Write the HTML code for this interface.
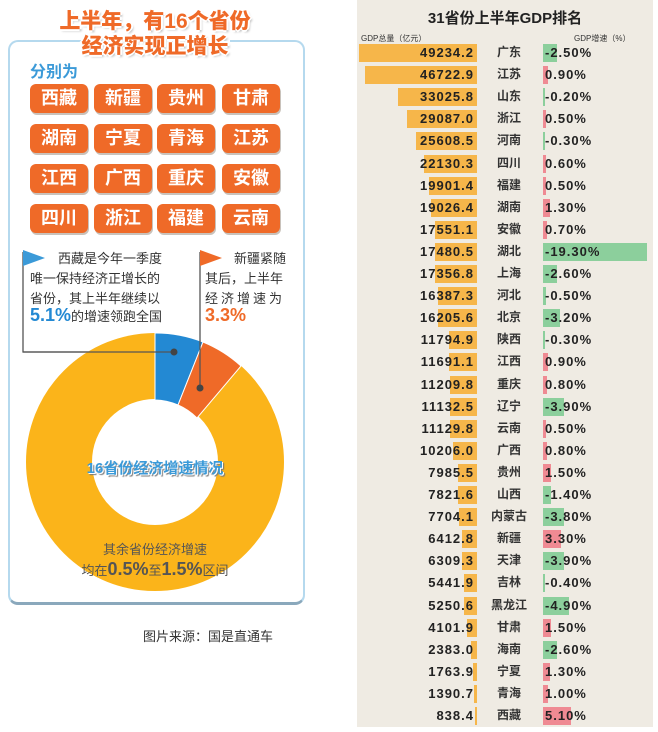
<!DOCTYPE html>
<html><head><meta charset="utf-8">
<style>
body{margin:0;width:658px;height:732px;background:#fff;position:relative;overflow:hidden;font-family:"Liberation Sans","Noto Sans CJK SC",sans-serif}
.a{position:absolute;white-space:nowrap}
.btn{position:absolute;width:58px;height:29px;background:#ef6a28;border-radius:6px;color:#fff;font-weight:bold;font-size:18px;line-height:29px;text-align:center;box-shadow:1px 2px 0 #c9c2bb}
.t{color:#ef6a28;font-weight:900;font-size:21px;text-shadow:-2px 0 #fff,2px 0 #fff,0 -2px #fff,0 2px #fff,2px 2px 2px #bbb}
.p{font-size:13px;color:#333;line-height:19.5px}
</style></head><body>
<div class="a" style="left:8px;top:40px;width:293px;height:560px;border:2px solid #b5d9ee;border-bottom:3px solid #8aa8bc;border-radius:10px"></div>
<div class="a" style="left:85px;top:36px;width:145px;height:12px;background:#fff"></div>
<div class="a t" style="left:0;width:310px;text-align:center;top:5px">上半年，有16个省份</div>
<div class="a t" style="left:0;width:310px;text-align:center;top:30px">经济实现正增长</div>
<div class="a" style="left:30px;top:58px;color:#3b9ad8;font-weight:bold;font-size:16px">分别为</div>
<div class="btn" style="left:30px;top:84px">西藏</div><div class="btn" style="left:94px;top:84px">新疆</div><div class="btn" style="left:157px;top:84px">贵州</div><div class="btn" style="left:222px;top:84px">甘肃</div>
<div class="btn" style="left:30px;top:124px">湖南</div><div class="btn" style="left:94px;top:124px">宁夏</div><div class="btn" style="left:157px;top:124px">青海</div><div class="btn" style="left:222px;top:124px">江苏</div>
<div class="btn" style="left:30px;top:164px">江西</div><div class="btn" style="left:94px;top:164px">广西</div><div class="btn" style="left:157px;top:164px">重庆</div><div class="btn" style="left:222px;top:164px">安徽</div>
<div class="btn" style="left:30px;top:204px">四川</div><div class="btn" style="left:94px;top:204px">浙江</div><div class="btn" style="left:157px;top:204px">福建</div><div class="btn" style="left:222px;top:204px">云南</div>
<svg class="a" style="left:0;top:0" width="330" height="620">
<polyline points="23,252 23,352 174,352" fill="none" stroke="#555" stroke-width="1.3"/>
<polygon points="23,250 45,258 23,266" fill="#3b9ad8"/>
<polyline points="200,252 200,388" fill="none" stroke="#555" stroke-width="1.3"/>
<polygon points="200,250 222,258 200,266" fill="#ef6a28"/>
<circle cx="155" cy="462" r="96" fill="none" stroke="#fbb41a" stroke-width="66"/>
<path d="M155,333 A129,129 0 0,1 203,342 L178,405 A62,62 0 0,0 155,400 Z" fill="#2389d3" stroke="#fff" stroke-width="1"/>
<path d="M203,342 A129,129 0 0,1 241,366 L197,418 A62,62 0 0,0 178,405 Z" fill="#ef6a28" stroke="#fff" stroke-width="1"/>
<polyline points="23,352 174,352" fill="none" stroke="#555" stroke-width="1.3"/>
<polyline points="200,340 200,388" fill="none" stroke="#555" stroke-width="1.3"/>
<circle cx="174" cy="352" r="3.5" fill="#444"/><circle cx="200" cy="388" r="3.5" fill="#444"/>
</svg>
<div class="a p" style="left:58px;top:249px">西藏是今年一季度</div>
<div class="a p" style="left:30px;top:269px">唯一保持经济正增长的</div>
<div class="a p" style="left:30px;top:289px">省份，其上半年继续以</div>
<div class="a p" style="left:30px;top:306px"><b style="color:#2389d3;font-size:18px">5.1%</b>的增速领跑全国</div>
<div class="a p" style="left:234px;top:249px">新疆紧随</div>
<div class="a p" style="left:205px;top:269px">其后，上半年</div>
<div class="a p" style="left:205px;top:289px;letter-spacing:3px">经济增速为</div>
<div class="a p" style="left:205px;top:306px"><b style="color:#ef6a28;font-size:18px">3.3%</b></div>
<div class="a" style="left:0;width:310px;text-align:center;top:457px;color:#3b9ad8;font-weight:bold;font-size:15px;text-shadow:1px 1px 0 #fff,2px 2px 1px #777">16省份经济增速情况</div>
<div class="a" style="left:0;width:310px;text-align:center;top:539px;color:#555;font-size:13px">其余省份经济增速</div>
<div class="a" style="left:0;width:310px;text-align:center;top:559px;color:#555;font-size:13px">均在<b style="font-size:18px">0.5%</b>至<b style="font-size:18px">1.5%</b>区间</div>
<div class="a" style="left:143px;top:626px;color:#333;font-size:13px">图片来源：国是直通车</div>
<div class="a" style="left:357px;top:0;width:296px;height:727px;background:#efebe3"></div>
<div class="a" style="left:357px;width:296px;text-align:center;top:7px;font-weight:bold;font-size:15px;color:#222">31省份上半年GDP排名</div>
<div class="a" style="left:361px;top:33px;font-size:8px;color:#333">GDP总量（亿元）</div>
<div class="a" style="left:574px;top:33px;font-size:8px;color:#333">GDP增速（%）</div>
<div id="rows"></div>
<script>
var d=[["广东","49234.2",-2.5],["江苏","46722.9",0.9],["山东","33025.8",-0.2],["浙江","29087.0",0.5],["河南","25608.5",-0.3],["四川","22130.3",0.6],["福建","19901.4",0.5],["湖南","19026.4",1.3],["安徽","17551.1",0.7],["湖北","17480.5",-19.3],["上海","17356.8",-2.6],["河北","16387.3",-0.5],["北京","16205.6",-3.2],["陕西","11794.9",-0.3],["江西","11691.1",0.9],["重庆","11209.8",0.8],["辽宁","11132.5",-3.9],["云南","11129.8",0.5],["广西","10206.0",0.8],["贵州","7985.5",1.5],["山西","7821.6",-1.4],["内蒙古","7704.1",-3.8],["新疆","6412.8",3.3],["天津","6309.3",-3.9],["吉林","5441.9",-0.4],["黑龙江","5250.6",-4.9],["甘肃","4101.9",1.5],["海南","2383.0",-2.6],["宁夏","1763.9",1.3],["青海","1390.7",1.0],["西藏","838.4",5.1]];
var h="";
d.forEach(function(r,i){var y=53+i*22.1;var bw=parseFloat(r[1])/49234*118;var gw=Math.max(2,Math.abs(r[2])*5.4);
h+='<div class="a" style="left:'+(477-bw)+'px;top:'+(y-9)+'px;width:'+bw+'px;height:18px;background:#f6b64a"></div>';
h+='<div class="a" style="left:380px;width:94px;text-align:right;top:'+(y-8)+'px;font-size:13px;font-weight:bold;letter-spacing:1px;color:#222">'+r[1]+'</div>';
h+='<div class="a" style="left:488px;width:42px;text-align:center;top:'+(y-10)+'px;font-size:12px;font-weight:bold;color:#333">'+r[0]+'</div>';
h+='<div class="a" style="left:543px;top:'+(y-9)+'px;width:'+gw+'px;height:18px;background:'+(r[2]<0?'#8ccf9c':'#ef8a93')+'"></div>';
h+='<div class="a" style="left:545px;top:'+(y-8)+'px;font-size:13px;font-weight:bold;letter-spacing:1px;color:#222">'+r[2].toFixed(2)+'%</div>';});
document.getElementById("rows").innerHTML=h;
</script>
</body></html>
